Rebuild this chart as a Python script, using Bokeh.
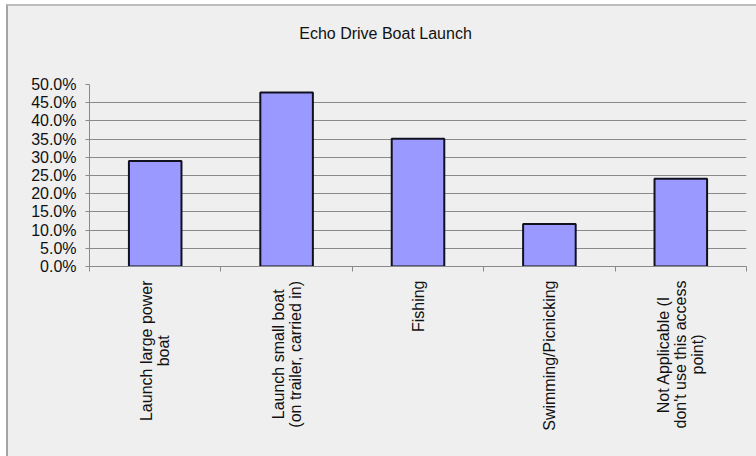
from math import pi
from bokeh.plotting import figure
from bokeh.layouts import column
from bokeh.models import Range1d, FixedTicker, NumeralTickFormatter, Label, CustomJSTickFormatter
from bokeh.embed import file_html
from bokeh.resources import INLINE

# ---- data ----
title_text = "Echo Drive Boat Launch"
category_lines = [
    ["Launch large power", "boat"],
    ["Launch small boat", "(on trailer, carried in)"],
    ["Fishing"],
    ["Swimming/Picnicking"],
    ["Not Applicable (I", "don't use this access", "point)"],
]
values = [0.290, 0.478, 0.351, 0.117, 0.241]
y_ticks = [0.0, 0.05, 0.10, 0.15, 0.20, 0.25, 0.30, 0.35, 0.40, 0.45, 0.50]

# ---- layout (page pixels, converted to figure pixels by the offsets) ----
OX, OY = 8, 6                 # inside of the grey chart border
W = 756 - OX
TOP_H = 70 - OY               # title strip
MAIN_BOTTOM = 280 - OY        # bottom of main chart figure
H_TOTAL = 456 - OY
FRAME_L, FRAME_R = 89 - OX, 746 - OX
FRAME_T, FRAME_B = 84 - OY, 266 - OY
FONT = "Liberation Sans"
FS = 16
BG = "#efefef"
GRID = "#8a8a8a"
TXT = "#111111"
n = len(values)
px_x = (FRAME_R - FRAME_L) / n

x_range = Range1d(0, n)


def strip(height):
    f = figure(width=W, height=height, output_backend="svg", toolbar_location=None,
               x_range=x_range, y_range=Range1d(height, 0),
               x_axis_type=None, y_axis_type=None,
               min_border_left=FRAME_L, min_border_right=W - FRAME_R,
               min_border_top=0, min_border_bottom=0)
    f.background_fill_color = BG
    f.border_fill_color = BG
    f.outline_line_color = None
    f.xgrid.visible = False
    f.ygrid.visible = False
    return f


# ---- main chart ----
p = figure(width=W, height=MAIN_BOTTOM - TOP_H, output_backend="svg", toolbar_location=None,
           x_range=x_range, y_range=Range1d(y_ticks[0], y_ticks[-1]),
           min_border_left=FRAME_L, min_border_right=W - FRAME_R,
           min_border_top=FRAME_T - TOP_H, min_border_bottom=MAIN_BOTTOM - FRAME_B)
p.background_fill_color = BG
p.border_fill_color = BG
p.outline_line_color = None

xs = [i + 0.5 for i in range(n)]
p.vbar(x=xs, top=values, bottom=0, width=0.4,
       fill_color="#9999ff", line_color="#101020", line_width=2)

p.yaxis.ticker = FixedTicker(ticks=y_ticks)
p.yaxis.formatter = NumeralTickFormatter(format="0.0%")
p.yaxis.major_label_text_font = FONT
p.yaxis.major_label_text_font_size = f"{FS}px"
p.yaxis.major_label_text_color = TXT
p.yaxis.major_tick_out = 4
p.yaxis.major_tick_in = 0
p.yaxis.minor_tick_line_color = None
p.yaxis.axis_line_color = GRID
p.yaxis.major_tick_line_color = GRID
p.yaxis.major_label_standoff = 9

p.xaxis.ticker = FixedTicker(ticks=list(range(n + 1)))
p.xaxis.formatter = CustomJSTickFormatter(code="return ''")
p.xaxis.major_label_standoff = 0
p.xaxis.major_tick_out = 5
p.xaxis.major_tick_in = 0
p.xaxis.minor_tick_line_color = None
p.xaxis.axis_line_color = GRID
p.xaxis.major_tick_line_color = GRID

p.xgrid.visible = False
p.ygrid.ticker = FixedTicker(ticks=y_ticks)
p.ygrid.grid_line_color = GRID
p.ygrid.grid_line_width = 1

# ---- title strip ----
t = strip(TOP_H)
t.add_layout(Label(x=(385 - OX - FRAME_L) / px_x, y=33 - OY, text=title_text, text_font=FONT,
                   text_font_size=f"{FS}px", text_color=TXT,
                   text_align="center", text_baseline="middle"))

# ---- category label strip ----
ARIAL = {" ": 278, "'": 191, "(": 333, ")": 333, ",": 278, "/": 278, "A": 667,
         "F": 611, "I": 278, "L": 556, "N": 722, "P": 667, "S": 667, "a": 556,
         "b": 556, "c": 500, "d": 556, "e": 556, "g": 556, "h": 556, "i": 222,
         "k": 500, "l": 222, "m": 833, "n": 556, "o": 556, "p": 556, "r": 333,
         "s": 500, "t": 278, "u": 556, "w": 722, "y": 500}


def text_w(s):
    return sum(ARIAL.get(c, 556) for c in s) * FS / 1000.0


b = strip(H_TOTAL - MAIN_BOTTOM)
LABEL_TOP = (280 - OY) - MAIN_BOTTOM
LINE_STEP = 17
for i, lines in enumerate(category_lines):
    longest = max(text_w(s) for s in lines)
    cy = LABEL_TOP + longest / 2
    k = len(lines)
    for j, s in enumerate(lines):
        dx = i + 0.5 + (j - (k - 1) / 2) * LINE_STEP / px_x
        b.add_layout(Label(x=dx, y=cy, text=s, angle=pi / 2, text_font=FONT,
                           text_font_size=f"{FS}px", text_color=TXT,
                           text_align="center", text_baseline="middle"))

layout = column(t, p, b, styles={"margin-left": "6px", "margin-top": "4px",
                                 "border-left": "2px solid #a4a4a4",
                                 "border-top": "2px solid #bdbdbd",
                                 "background-color": BG})
open("out.html", "w").write(file_html(layout, INLINE))
